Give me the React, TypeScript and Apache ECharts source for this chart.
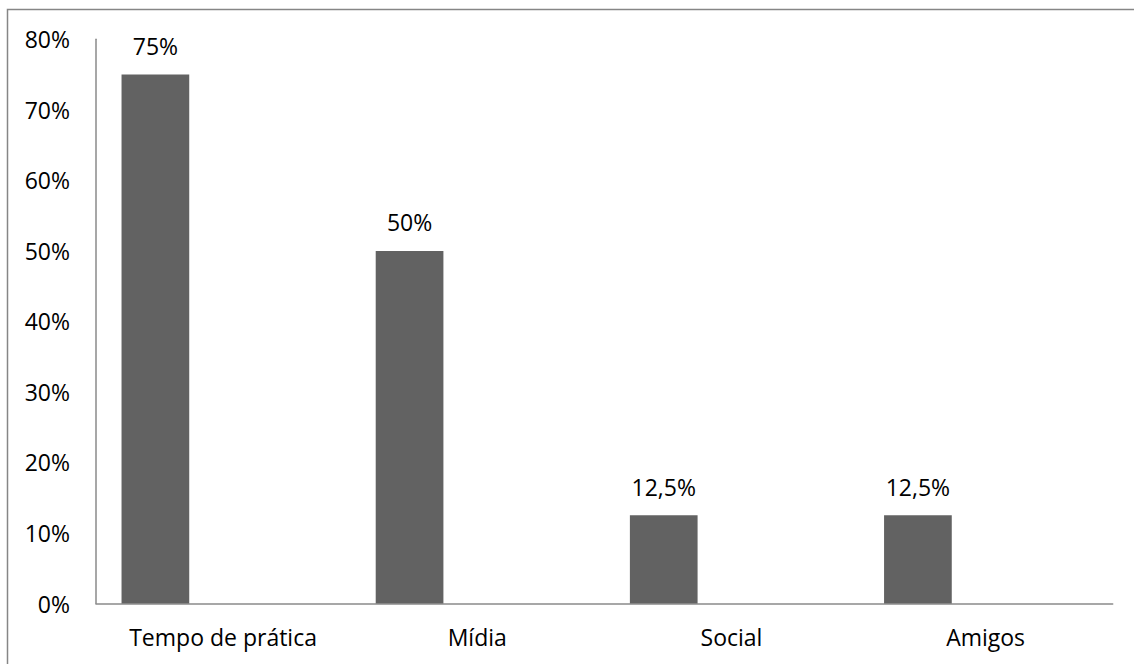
import React, { useEffect, useRef } from "react";
import * as echarts from "echarts";

const categories = ["Tempo de prática", "Mídia", "Social", "Amigos"];
const values = [75, 50, 12.5, 12.5];
const emptyValues = [null, null, null, null];
const yMin = 0;
const yMax = 80;
const yInterval = 10;

const FONT = "'Open Sans', 'Noto Sans', sans-serif";

export default function App() {
  const ref = useRef<HTMLDivElement>(null);
  useEffect(() => {
    if (!ref.current) return;
    const chart = echarts.init(ref.current, undefined, { renderer: "svg" });
    const fmt = (v: number) => String(v).replace(".", ",") + "%";
    chart.setOption({
      animation: false,
      backgroundColor: "#ffffff",
      textStyle: { fontFamily: FONT },
      graphic: [
        {
          type: "rect",
          shape: { x: 7.5, y: 9.5, width: 1300, height: 800 },
          style: { fill: "none", stroke: "#868686", lineWidth: 1.5 },
          silent: true,
        },
      ],
      grid: { left: 96, top: 39.3, right: 21.3, bottom: 60.5, containLabel: false },
      xAxis: {
        type: "category",
        data: categories,
        axisLine: { show: true, lineStyle: { color: "#8a8a8a", width: 1.5 } },
        axisTick: { show: false },
        axisLabel: { color: "#000", fontSize: 23, fontFamily: FONT, margin: 22 },
        splitLine: { show: false },
      },
      yAxis: {
        type: "value",
        min: yMin,
        max: yMax,
        interval: yInterval,
        axisLine: { show: true, lineStyle: { color: "#8a8a8a", width: 1.5 } },
        axisTick: { show: false },
        splitLine: { show: false },
        axisLabel: {
          color: "#000",
          fontSize: 23,
          fontFamily: FONT,
          margin: 26,
          formatter: (v: number) => fmt(v),
        },
      },
      series: [
        {
          type: "bar",
          data: values,
          barWidth: 67.7,
          barGap: "0%",
          itemStyle: { color: "#626262" },
          label: {
            show: true,
            position: "top",
            distance: 17,
            color: "#000",
            fontSize: 23,
            fontFamily: FONT,
            formatter: (p: any) => fmt(p.value),
          },
        },
        { type: "bar", data: emptyValues, barWidth: 67.7, barGap: "0%" },
        { type: "bar", data: emptyValues, barWidth: 67.7, barGap: "0%" },
      ],
    });
    return () => chart.dispose();
  }, []);
  return (
    <div
      ref={ref}
      style={{ position: "absolute", left: 0, top: 0, width: 1134, height: 664 }}
    />
  );
}
